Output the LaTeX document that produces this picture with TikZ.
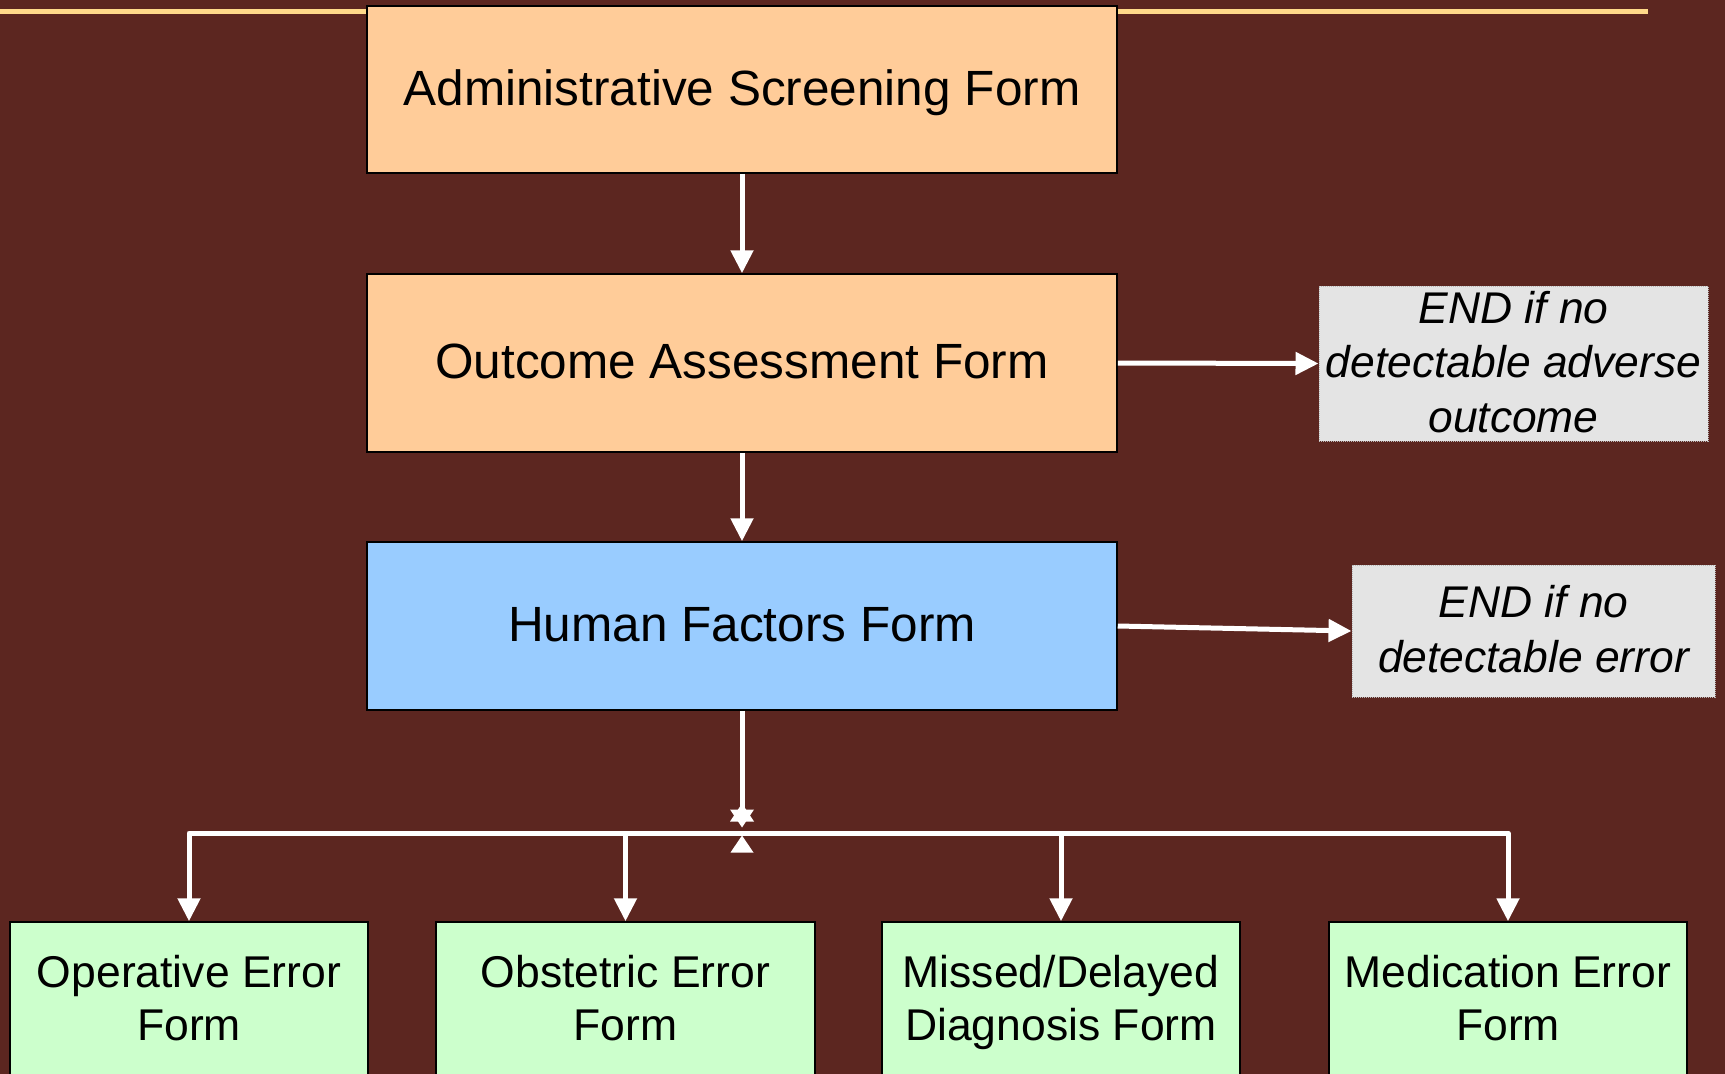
\documentclass[tikz,border=0pt]{standalone}
\usepackage{fontspec}
\setmainfont{Liberation Sans}
\usetikzlibrary{arrows.meta}

\definecolor{bgmaroon}{HTML}{5C2620}
\definecolor{rulegold}{HTML}{FFD98A}
\definecolor{peach}{HTML}{FFCC99}
\definecolor{skyblue}{HTML}{99CCFF}
\definecolor{mint}{HTML}{CCFFCC}
\definecolor{endgray}{HTML}{E4E4E4}

\tikzset{
  formbox/.style={draw=black, line width=1.5pt, rectangle, inner sep=0pt,
    align=center, text=black},
  mainform/.style={formbox, minimum width=750pt, text depth=4pt,
    font=\fontsize{49.5}{58}\selectfont},
  subform/.style={formbox, fill=mint, minimum height=156pt, text depth=4.5pt,
    font=\fontsize{44.5}{52.8}\selectfont},
  endbox/.style={rectangle, fill=endgray, draw=gray!55, densely dotted,
    line width=1pt, inner sep=0pt, align=center, text=black, text depth=4pt,
    font=\fontsize{44.4}{54.5}\selectfont\itshape},
  flow/.style={draw=white, line width=5pt, line join=round,
    -{Triangle[length=23pt, width=22pt]}},
  wire/.style={draw=white, line width=5pt, line join=round},
}

\begin{document}
\begin{tikzpicture}[x=1pt, y=-1pt]
  % canvas
  \fill[bgmaroon] (0,0) rectangle (1725,1074);
  \useasboundingbox (0,0) rectangle (1725,1074);

  % header rule
  \fill[rulegold] (0,9) rectangle (1648,13.5);

  % main column of forms
  \node[mainform, fill=peach, minimum height=167pt] (admin) at (742,89.5)
    {Administrative Screening Form};
  \node[mainform, fill=peach, minimum height=178pt] (outcome) at (742,363)
    {Outcome Assessment Form};
  \node[mainform, fill=skyblue, minimum height=168pt] (human) at (742,626)
    {Human Factors Form};

  % end conditions
  \node[endbox, minimum width=389pt, minimum height=155pt] (end1) at (1513.5,363.5)
    {END if no\\detectable adverse\\outcome};
  \node[endbox, minimum width=363pt, minimum height=132pt] (end2) at (1533.5,631)
    {END if no\\detectable error};

  % specific error forms
  \node[subform, minimum width=358pt] (operative) at (189,1000)
    {Operative Error\\Form};
  \node[subform, minimum width=379pt] (obstetric) at (625.5,1000)
    {Obstetric Error\\Form};
  \node[subform, minimum width=358pt] (missed) at (1061,1000)
    {Missed/Delayed\\Diagnosis Form};
  \node[subform, minimum width=358pt] (medication) at (1508,1000)
    {Medication Error\\Form};

  % connectors down the main column
  \draw[flow] (admin.south) -- (outcome.north);
  \draw[flow] (outcome.south) -- (human.north);
  \draw[flow] (outcome.east) -- (end1.west);
  \draw[flow] (human.east) -- (end2.west);

  % branching bus
  \coordinate (star) at (742,815);
  \coordinate (bus) at (742,833);
  \draw[wire] (human.south) -- (star);
  \fill[white] (730,821.5) -- (742,803.5) -- (754,821.5) -- cycle;
  \fill[white] (730,809.5) -- (742,827.5) -- (754,809.5) -- cycle;
  \fill[white] (730.5,852.5) -- (742,835.5) -- (753.5,852.5) -- cycle;

  \draw[flow] (bus) -| (operative.north);
  \draw[flow] (bus) -| (medication.north);
  \draw[flow] (obstetric.north |- bus) -- (obstetric.north);
  \draw[flow] (missed.north |- bus) -- (missed.north);
\end{tikzpicture}
\end{document}
